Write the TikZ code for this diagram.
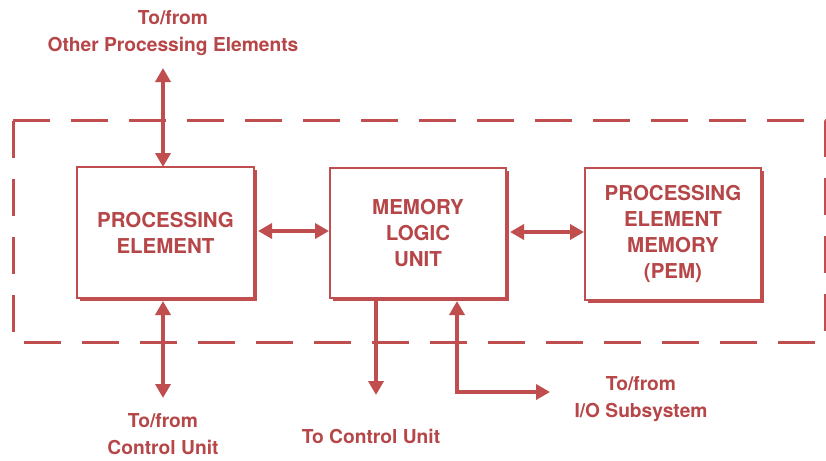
\documentclass[tikz,border=0pt]{standalone}
\usepackage{fontspec}
\setmainfont{TeX Gyre Heros}
\usetikzlibrary{arrows.meta}
\definecolor{ink}{RGB}{192,78,78}
\definecolor{txt}{RGB}{182,70,72}
\tikzset{
  unitbox/.style={draw=ink, line width=2pt, fill=white, minimum width=177pt,
    minimum height=131pt, inner sep=0pt, align=center, text=txt,
    font=\bfseries\fontsize{20.5}{26}\selectfont},
  shade/.style={fill=ink, draw=none},
  link/.style={draw=ink, line width=3.5pt,
    {Triangle[length=14pt,width=15pt]}-{Triangle[length=14pt,width=15pt]}},
  outlink/.style={draw=ink, line width=3.5pt, -{Triangle[length=14pt,width=15pt]}},
  frame/.style={draw=ink, line width=3pt, dash pattern=on 37pt off 21pt},
  lbl/.style={text=txt, align=center, inner sep=0pt,
    font=\bfseries\fontsize{19.2}{27}\selectfont}
}
\begin{document}
\begin{tikzpicture}[x=1pt, y=-1pt]
  \useasboundingbox (0,0) rectangle (826,460);
  \fill[white] (0,0) rectangle (826,460);

  % dashed enclosure of one processing element
  \draw[frame] (13,120) -- (825,120) -- (825,342) -- (13,342) -- cycle;

  % drop shadows behind the three units
  \fill[shade] (80,170) rectangle (257,301);
  \fill[shade] (333,171) rectangle (509,301);
  \fill[shade] (588,171) rectangle (764,303);

  % the three units
  \node[unitbox] (pe) at (165.5,232.5) {PROCESSING\\ELEMENT};
  \node[unitbox, minimum width=176pt, minimum height=130pt] (mlu) at (418,233) {MEMORY\\LOGIC\\UNIT};
  \node[unitbox, minimum width=176pt, minimum height=132pt] (pem) at (673,234) {PROCESSING\\ELEMENT\\MEMORY\\(PEM)};

  % free ends of the external connections
  \coordinate (peTop) at (163,68);
  \coordinate (peTopIn) at (163,167);
  \coordinate (peBot) at (163,398);
  \coordinate (peBotIn) at (163,301);
  \coordinate (cuOut) at (376,395);
  \coordinate (cuIn) at (376,301);
  \coordinate (ioIn) at (457,301);
  \coordinate (ioBend) at (457,392);
  \coordinate (ioOut) at (550,392);

  % connectors
  \draw[link] (peTop) -- (peTopIn);
  \draw[link] (pe.east |- 0,231) ++(3,0) coordinate (peR) -- (mlu.west |- 0,231);
  \draw[link] (mlu.east |- 0,232) ++(3,0) coordinate (mluR) -- (pem.west |- 0,232);
  \draw[link] (peBotIn) -- (peBot);
  \draw[outlink] (cuIn) -- (cuOut);
  \draw[link] (ioIn) -- (ioBend) -- (ioOut);

  % labels
  \node[lbl] (lTop) at (173,33) {To/from\\Other Processing Elements};
  \node[lbl] (lCU) at (163,434) {To/from\\Control Unit};
  \node[lbl] (lCU2) at (371,436) {To Control Unit};
  \node[lbl] (lIO) at (641,399) {To/from\\I/O Subsystem};
\end{tikzpicture}
\end{document}
